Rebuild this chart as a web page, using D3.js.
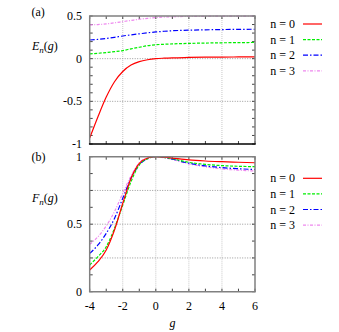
<!DOCTYPE html>
<html>
<head>
<meta charset="utf-8">
<script src="https://cdn.jsdelivr.net/npm/d3@7"></script>
<style>
    body { margin: 0; background: #fff; }
</style>
</head>
<body>
<script>
// coupling values g shared by all curves
var gValues = [-4, -3.5, -3, -2.5, -2, -1.5, -1, -0.5, 0, 0.5, 1, 2, 3, 4, 5, 6];

// panel (a): energies E_n(g)
var energy0 = [-0.93, -0.68, -0.45, -0.27, -0.15, -0.075, -0.035, -0.013, 0.0, 0.006, 0.01, 0.014, 0.017, 0.019, 0.02, 0.021];
var energy1 = [0.056, 0.063, 0.072, 0.082, 0.095, 0.115, 0.134, 0.152, 0.163, 0.169, 0.173, 0.179, 0.183, 0.186, 0.188, 0.19];
var energy2 = [0.219, 0.226, 0.236, 0.25, 0.266, 0.279, 0.291, 0.303, 0.313, 0.321, 0.327, 0.334, 0.338, 0.341, 0.343, 0.345];
var energy3 = [0.395, 0.4, 0.407, 0.42, 0.434, 0.448, 0.462, 0.473, 0.481, 0.487, 0.491, 0.495, 0.497, 0.498, 0.499, 0.5];

// panel (b): fidelities F_n(g)
var fidelity0 = [0.161, 0.222, 0.309, 0.457, 0.655, 0.84, 0.95, 0.99, 1.0, 0.997, 0.99, 0.976, 0.968, 0.963, 0.959, 0.955];
var fidelity1 = [0.198, 0.26, 0.333, 0.47, 0.642, 0.815, 0.94, 0.985, 1.0, 0.995, 0.985, 0.958, 0.943, 0.934, 0.929, 0.926];
var fidelity2 = [0.284, 0.346, 0.432, 0.543, 0.692, 0.84, 0.94, 0.985, 1.0, 0.994, 0.982, 0.952, 0.932, 0.919, 0.911, 0.905];
var fidelity3 = [0.351, 0.407, 0.487, 0.593, 0.729, 0.857, 0.955, 0.99, 1.0, 0.993, 0.979, 0.947, 0.925, 0.91, 0.9, 0.894];

var seriesNames = ["n = 0", "n = 1", "n = 2", "n = 3"];
var xTickLabels = [-4, -2, 0, 2, 4, 6];
var energyTickLabels = [0.5, 0, -0.5, -1];
var fidelityTickLabels = [1, 0.5, 0];

var colors = ["#ff0000", "#00ee00", "#0000ff", "#ee88ee"];
var dashes = [null, "3,1.5", "5,2,1.5,2", "3,1.5,1,1.5"];

var W = 339, H = 332;
var svg = d3.select("body").append("svg")
    .attr("width", W)
    .attr("height", H)
    .attr("font-family", "'Liberation Serif', 'DejaVu Serif', 'Liberation Sans', Arial, sans-serif")
    .attr("font-size", 12);

var x = d3.scaleLinear().domain([-4, 6]).range([89.7, 255]);

var panels = [
    {
        tag: "(a)", tagY: 15.5, label: "E", labelY: 50,
        top: 16, bottom: 144, domain: [-1, 0.5],
        minor: 0.1, grid: [0, -0.5], labels: energyTickLabels,
        data: [energy0, energy1, energy2, energy3],
        legendY: 24, bottomColor: "#000"
    },
    {
        tag: "(b)", tagY: 161, label: "F", labelY: 202,
        top: 156.7, bottom: 291.7, domain: [0, 1],
        minor: 0.125, grid: [0.25, 0.5, 0.75], labels: fidelityTickLabels,
        data: [fidelity0, fidelity1, fidelity2, fidelity3],
        legendY: 178.3, bottomColor: "#808080"
    }
];

panels.forEach(function (p, iPanel) {
    var y = d3.scaleLinear().domain(p.domain).range([p.bottom, p.top]);
    var g = svg.append("g");
    var x0 = x.range()[0], x1 = x.range()[1];

    // grid
    [-2, 0, 2, 4].forEach(function (v) {
        g.append("line")
            .attr("x1", x(v)).attr("x2", x(v))
            .attr("y1", p.top).attr("y2", p.bottom)
            .attr("stroke", "#c8c8c8").attr("stroke-width", 1)
            .attr("stroke-dasharray", "1,1");
    });
    p.grid.forEach(function (v) {
        g.append("line")
            .attr("x1", x0).attr("x2", x1)
            .attr("y1", y(v)).attr("y2", y(v))
            .attr("stroke", "#999").attr("stroke-width", 1)
            .attr("stroke-dasharray", "1,1.5");
    });

    // minor ticks on all sides
    d3.range(-4, 6.01, 1).forEach(function (v) {
        var len = 3;
        g.append("line").attr("x1", x(v)).attr("x2", x(v))
            .attr("y1", p.bottom).attr("y2", p.bottom - len)
            .attr("stroke", "#444").attr("stroke-width", 1);
        g.append("line").attr("x1", x(v)).attr("x2", x(v))
            .attr("y1", p.top).attr("y2", p.top + len)
            .attr("stroke", "#444").attr("stroke-width", 1);
    });
    var nMinor = Math.round((p.domain[1] - p.domain[0]) / p.minor);
    for (var i = 0; i <= nMinor; i++) {
        var v = p.domain[0] + i * p.minor;
        g.append("line").attr("x1", x0).attr("x2", x0 + 3)
            .attr("y1", y(v)).attr("y2", y(v))
            .attr("stroke", "#444").attr("stroke-width", 1);
        g.append("line").attr("x1", x1).attr("x2", x1 - 3)
            .attr("y1", y(v)).attr("y2", y(v))
            .attr("stroke", "#444").attr("stroke-width", 1);
    }

    // curves
    var clipId = "clip" + iPanel;
    svg.append("clipPath").attr("id", clipId)
        .append("rect")
        .attr("x", x0).attr("y", p.top - 1)
        .attr("width", x1 - x0).attr("height", p.bottom - p.top + 2);

    var line = d3.line()
        .x(function (d) { return x(d[0]); })
        .y(function (d) { return y(d[1]); })
        .curve(d3.curveMonotoneX);

    for (var iLine = p.data.length - 1; iLine >= 0; iLine--) {
        var pts = gValues.map(function (gv, k) { return [gv, p.data[iLine][k]]; });
        g.append("path")
            .attr("d", line(pts))
            .attr("clip-path", "url(#" + clipId + ")")
            .attr("fill", "none")
            .attr("stroke", colors[iLine])
            .attr("stroke-width", 1.2)
            .attr("stroke-dasharray", dashes[iLine]);
    }

    // frame
    g.append("path")
        .attr("d", "M" + x0 + "," + p.bottom + "V" + p.top + "H" + x1 + "V" + p.bottom)
        .attr("fill", "none").attr("stroke", "#808080").attr("stroke-width", 1.5);
    g.append("line")
        .attr("x1", x0 - 0.75).attr("x2", x1 + 0.75)
        .attr("y1", p.bottom).attr("y2", p.bottom)
        .attr("stroke", p.bottomColor).attr("stroke-width", 1.5);

    // y tick labels
    p.labels.forEach(function (v) {
        g.append("text")
            .attr("x", 82).attr("y", y(v) + 4)
            .attr("text-anchor", "end")
            .text(v);
    });

    // panel tag and axis label
    g.append("text").attr("x", 31.5).attr("y", p.tagY).text(p.tag);
    var lab = g.append("text").attr("x", 32).attr("y", p.labelY)
        .attr("font-style", "italic");
    lab.append("tspan").text(p.label);
    lab.append("tspan").attr("dy", 3).attr("font-size", 9).text("n");
    lab.append("tspan").attr("dy", -3).attr("font-style", "normal").text("(");
    lab.append("tspan").text("g");
    lab.append("tspan").attr("font-style", "normal").text(")");

    // legend
    seriesNames.forEach(function (name, k) {
        var ly = p.legendY + k * 15.6;
        g.append("text")
            .attr("x", 295).attr("y", ly + 4)
            .attr("text-anchor", "end")
            .text(name);
        g.append("line")
            .attr("x1", 303).attr("x2", 322)
            .attr("y1", ly).attr("y2", ly)
            .attr("stroke", colors[k])
            .attr("stroke-width", 1.2)
            .attr("stroke-dasharray", dashes[k]);
    });
});

// x tick labels (bottom panel only)
xTickLabels.forEach(function (v) {
    svg.append("text")
        .attr("x", x(v)).attr("y", 309.5)
        .attr("text-anchor", "middle")
        .text(v);
});
svg.append("text")
    .attr("x", 172.5).attr("y", 327)
    .attr("text-anchor", "middle")
    .attr("font-style", "italic")
    .text("g");
</script>
</body>
</html>
